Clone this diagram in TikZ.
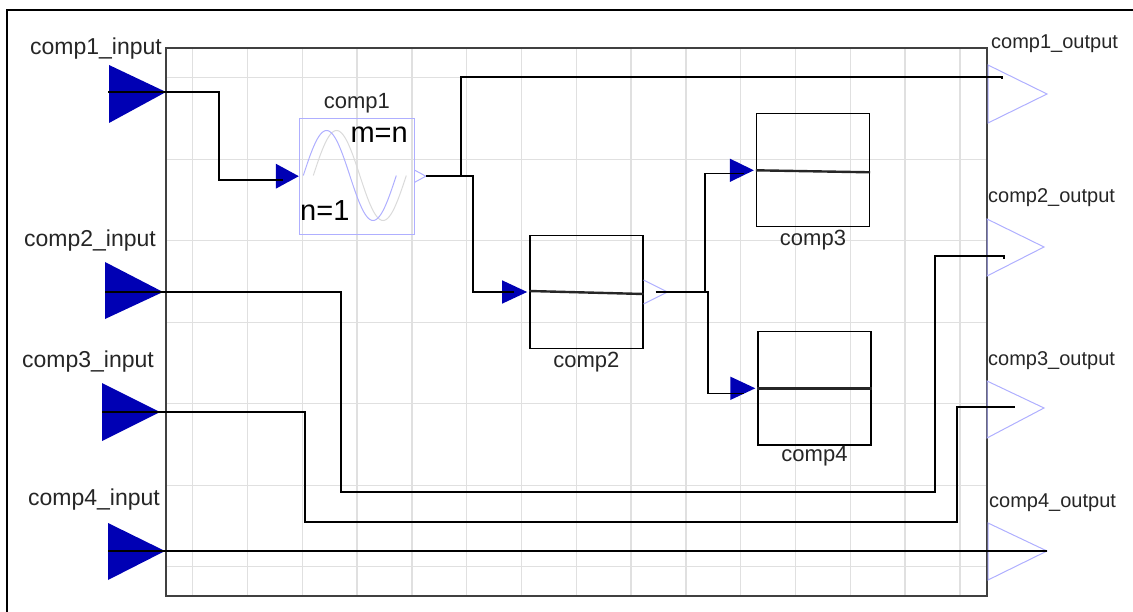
\documentclass[tikz,border=0pt]{standalone}
\usepackage{fontspec}
\setmainfont{Liberation Sans}
\usepackage{tikz}
\usetikzlibrary{positioning}
\definecolor{portblue}{HTML}{0000B4}
\definecolor{portline}{HTML}{AFAFFF}
\definecolor{gridgray}{HTML}{E0E0E0}
\definecolor{sinegray}{HTML}{DADADA}
\definecolor{textgray}{HTML}{262626}

\begin{document}
\begin{tikzpicture}[x=1bp,y=-1bp,
  every node/.style={font=\fontsize{22bp}{26bp}\selectfont,text=textgray},
  wire/.style={draw=black,line width=1.4bp},
  gridline/.style={draw=gridgray,line width=1.3bp},
  portin/.style={fill=portblue},
  portout/.style={draw=portline,line width=1bp},
  block/.style={draw=black,line width=1.4bp,rectangle,minimum width=113bp,minimum height=113bp,inner sep=0pt},
  lbl/.style={font=\fontsize{22bp}{26bp}\selectfont,inner sep=1bp},
  portlbl/.style={font=\fontsize{23bp}{27bp}\selectfont,inner sep=0pt,anchor=base east},
  outlbl/.style={font=\fontsize{20bp}{24bp}\selectfont,inner sep=0pt,anchor=base west}]
\useasboundingbox (0,0) rectangle (1133,612);
\draw[line width=2bp] (7,612) -- (7,10) -- (1133,10);
% grid
\draw[gridline] (192.7,48) -- (192.7,596) (247.5,48) -- (247.5,596) (302.3,48) -- (302.3,596)
  (357.1,48) -- (357.1,596) (411.9,48) -- (411.9,596) (466.7,48) -- (466.7,596)
  (521.5,48) -- (521.5,596) (576.3,48) -- (576.3,596) (631.1,48) -- (631.1,596)
  (685.9,48) -- (685.9,596) (740.7,48) -- (740.7,596) (795.5,48) -- (795.5,596)
  (850.3,48) -- (850.3,596) (905.1,48) -- (905.1,596) (959.9,48) -- (959.9,596);
\draw[gridline] (166,77.7) -- (987,77.7) (166,159.2) -- (987,159.2) (166,240.7) -- (987,240.7)
  (166,322.2) -- (987,322.2) (166,403.7) -- (987,403.7) (166,485.2) -- (987,485.2)
  (166,566.7) -- (987,566.7);
\draw[draw=black!75,line width=1.5bp] (166,48) rectangle (987,596);

% ports
\fill[portin] (109,65) -- (166,92) -- (109,123) -- cycle;
\fill[portin] (105,262) -- (163,292) -- (105,319) -- cycle;
\fill[portin] (102,383) -- (160,412) -- (102,441) -- cycle;
\fill[portin] (108,523) -- (165,551) -- (108,580) -- cycle;
\draw[portout] (988,65) -- (1047,94) -- (988,123) -- cycle;
\draw[portout] (987,219) -- (1044,247) -- (987,276) -- cycle;
\draw[portout] (987,381) -- (1044,408) -- (987,438) -- cycle;
\draw[portout] (988,523) -- (1047,551) -- (988,580) -- cycle;
\coordinate (in1) at (108,92);
\coordinate (in2) at (105,292);
\coordinate (in3) at (102,412);
\coordinate (in4) at (108,551);
\coordinate (out1) at (1002,77);
\coordinate (out2) at (1004,256);
\coordinate (out3) at (1015,407);
\coordinate (out4) at (1047,551);
\node[portlbl] (in1lbl) at (162,55) {comp1\_input};
\node[portlbl] (in2lbl) at (156,247) {comp2\_input};
\node[portlbl] (in3lbl) at (154,367) {comp3\_input};
\node[portlbl] (in4lbl) at (160,505) {comp4\_input};
\node[outlbl] (out1lbl) at (991,49) {comp1\_output};
\node[outlbl] (out2lbl) at (988,203) {comp2\_output};
\node[outlbl] (out3lbl) at (988,365) {comp3\_output};
\node[outlbl] (out4lbl) at (989,507) {comp4\_output};

% blocks
\draw[draw=sinegray,line width=1bp] plot[domain=0:1,samples=61,smooth] ({313.3+93*\x},{175.5-45*sin(360*\x)});
\draw[draw=portline,line width=1bp] plot[domain=0:1,samples=61,smooth] ({303.3+93*\x},{175.5-45*sin(360*\x)});
\node[block,draw=portline,line width=1bp,minimum width=115bp,minimum height=116bp,
  label={[lbl,label distance=3.5bp]above:comp1}] (comp1) at (356.8,176.2) {};
\node[inner sep=0pt,anchor=base east,font=\fontsize{29bp}{32bp}\selectfont,text=black] (mlab) at (408,143) {m=n};
\node[inner sep=0pt,anchor=base west,font=\fontsize{29bp}{32bp}\selectfont,text=black] (nlab) at (300,221) {n=1};
\node[block,label={[lbl,label distance=2bp]below:comp2}] (comp2) at (586.3,292) {};
\node[block,label={[lbl,label distance=1bp]below:comp3}] (comp3) at (813,170.3) {};
\node[block,label={[lbl,label distance=0bp]below:comp4}] (comp4) at (814.5,388.3) {};
\draw[line width=2.4bp,black!85] ([yshift=1bp]comp2.west) -- ([yshift=-2bp]comp2.east);
\draw[line width=2.4bp,black!85] (comp3.west) -- ([yshift=-2bp]comp3.east);
\draw[line width=2.4bp,black!85] (comp4.west) -- (comp4.east);
\fill[portin] (comp1.west) -- ++(-23,-12.5) -- ++(0,25) -- cycle;
\fill[portin] ([xshift=-2bp]comp2.west) -- ++(-25,-11.7) -- ++(0,23.4) -- cycle;
\fill[portin] ([xshift=-2bp]comp3.west) -- ++(-24,-11.7) -- ++(0,23.4) -- cycle;
\fill[portin] ([xshift=-2bp]comp4.west) -- ++(-25,-11.7) -- ++(0,23.4) -- cycle;
\draw[portout] (comp1.east) ++(0,-6) -- ++(11,6) -- ++(-11,6);
\draw[portout] (comp2.east) ++(0,-12) -- ++(24,12) -- ++(-24,12);
\coordinate (j1) at ([xshift=46bp]comp1.east);

% wires
\draw[wire] (in1) -- (219,92) |- ([xshift=-16bp,yshift=-4bp]comp1.west);
\draw[wire] ([xshift=11bp]comp1.east) -| (473,250) |- ([xshift=-15bp]comp2.west);
\draw[wire] (j1) |- (out1) -- ++(0,2);
\draw[wire] ([xshift=12bp]comp2.east) -| (705,230) |- ([xshift=-12bp,yshift=-3bp]comp3.west);
\draw[wire] (705,292) -- (708,292) |- ([xshift=-13bp,yshift=-5bp]comp4.west);
\draw[wire] (in2) -| (341,492) -| (935,256) -- (out2) -- ++(0,3);
\draw[wire] (in3) -| (305,522) -| (957,407) -- (out3);
\draw[wire] (in4) -- (out4);
\end{tikzpicture}
\end{document}
